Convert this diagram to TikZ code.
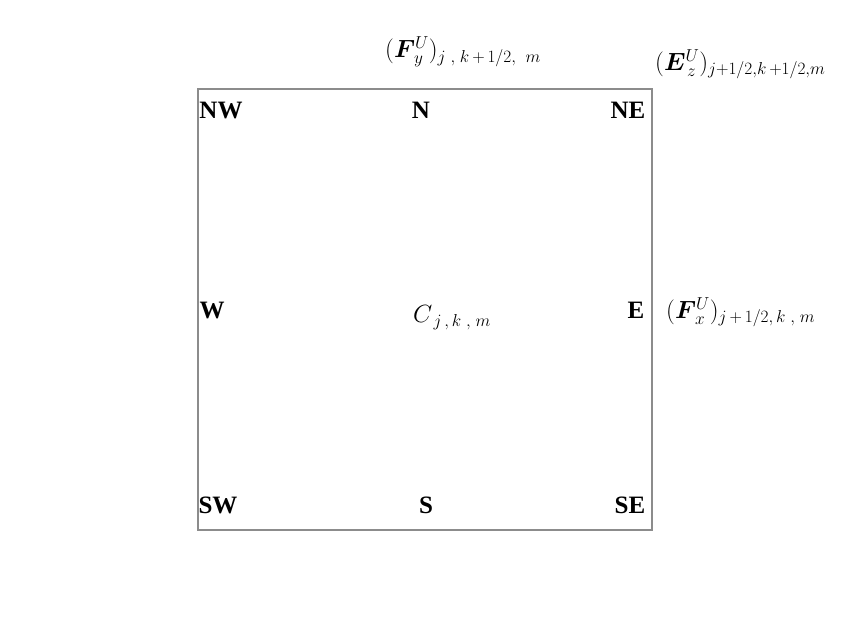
\documentclass[tikz,border=0pt]{standalone}
\usepackage{fontspec}
\setmainfont{Liberation Serif}
\usepackage{bm}
\begin{document}
\begin{tikzpicture}[x=1pt,y=-1pt,
  lbl/.style={font=\fontsize{25}{27}\selectfont\bfseries, inner sep=0pt},
  mlbl/.style={font=\fontsize{25}{27}\selectfont, inner sep=0pt, anchor=west},
  cellbox/.style={draw=black!45, line width=1.5pt}]
\useasboundingbox (0,0) rectangle (843,633);
\fill[white] (0,0) rectangle (843,633);
\node[cellbox, minimum width=454pt, minimum height=441pt, inner sep=0pt, anchor=north west] (cell) at (197,88) {};
\node[lbl] (nw) at (221,110) {NW};
\node[lbl] (n) at (421,110) {N};
\node[lbl] (ne) at (628,110) {NE};
\node[lbl] (w) at (212,310) {W};
\node[lbl] (e) at (636,310) {E};
\node[lbl] (sw) at (218,505) {SW};
\node[lbl] (s) at (426,505) {S};
\node[lbl] (se) at (630,505) {SE};
\node[mlbl] (c) at (413,318) {$C_{\,j\,,\,k\;,\;m}$};
\node[mlbl] (fx) at (666,312) {$(\bm{F}^{U}_{\,x})_{j\,+\,1/2,\,k\;,\;m}$};
\node[mlbl] (fy) at (385,52) {$(\bm{F}^{U}_{\,y})_{j\;,\;k\,+\,1/2,\;\;m}$};
\node[mlbl] (ez) at (655,64) {$(\bm{E}^{U}_{\,z})_{j+1/2,k\,+1/2,m}$};
\end{tikzpicture}
\end{document}
